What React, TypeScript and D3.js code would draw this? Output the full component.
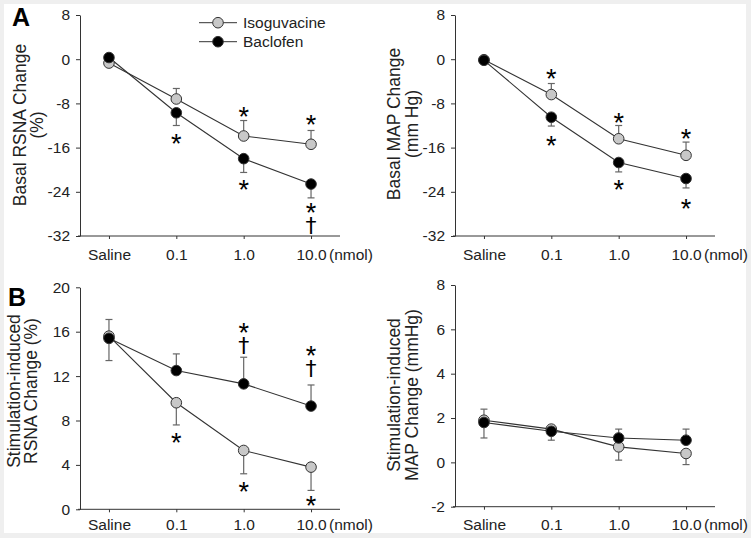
import { useEffect, useRef } from "react";
import * as d3 from "d3";

const doses = ["Saline", "0.1", "1.0", "10.0"];
const seriesNames = ["Isoguvacine", "Baclofen"];

// A, basal RSNA change (%)  -- error sign gives the whisker direction
const rsnaIso = [-0.7, -7.2, -13.9, -15.4];
const rsnaIsoErr = [0.4, 1.9, 2.8, 2.5];
const rsnaBac = [0.3, -9.7, -18.0, -22.6];
const rsnaBacErr = [-0.3, -2.3, -2.5, -2.5];

// A, basal MAP change (mm Hg)
const mapIso = [-0.1, -6.4, -14.4, -17.4];
const mapIsoErr = [0.3, 2.0, 2.4, 2.4];
const mapBac = [-0.2, -10.5, -18.7, -21.6];
const mapBacErr = [-0.3, -1.6, -1.7, -1.7];

// B, stimulation-induced RSNA change (%)
const stimRsnaIso = [15.6, 9.6, 5.3, 3.8];
const stimRsnaIsoErr = [1.5, -2.0, -2.1, -2.1];
const stimRsnaBac = [15.4, 12.5, 11.3, 9.3];
const stimRsnaBacErr = [-2.0, 1.5, 2.4, 1.9];

// B, stimulation-induced MAP change (mmHg)
const stimMapIso = [1.9, 1.5, 0.7, 0.4];
const stimMapIsoErr = [0.5, 0.1, -0.6, -0.5];
const stimMapBac = [1.8, 1.4, 1.1, 1.0];
const stimMapBacErr = [-0.7, -0.4, 0.4, 0.5];

const basalTicks = [-32, -24, -16, -8, 0, 8];
const stimRsnaTicks = [0, 4, 8, 12, 16, 20];
const stimMapTicks = [-2, 0, 2, 4, 6, 8];

// significance marks: dose, value at the star's centre, symbols (star, optional dagger below)
type Mark = [string, number, string];
const rsnaMarks: Mark[] = [
  ["0.1", -14.3, "*"],
  ["1.0", -9.4, "*"],
  ["1.0", -22.6, "*"],
  ["10.0", -10.7, "*"],
  ["10.0", -27.0, "*†"],
];
const mapMarks: Mark[] = [
  ["0.1", -2.4, "*"],
  ["0.1", -14.5, "*"],
  ["1.0", -10.4, "*"],
  ["1.0", -22.6, "*"],
  ["10.0", -13.4, "*"],
  ["10.0", -26.0, "*"],
];
const stimRsnaMarks: Mark[] = [
  ["0.1", 6.5, "*"],
  ["1.0", 16.3, "*†"],
  ["1.0", 2.1, "*"],
  ["10.0", 14.2, "*†"],
  ["10.0", 0.85, "*"],
];
const stimMapMarks: Mark[] = [];

const FONT = "'Liberation Sans', Arial, Helvetica, sans-serif";
const GRAY = "#c8c8c8";

interface PanelCfg {
  left: number;
  right: number;
  top: number;
  bottom: number;
  ticks: number[];
  iso: number[];
  isoErr: number[];
  bac: number[];
  bacErr: number[];
  marks: Mark[];
  title: string[];
  titleX: number;
  titleY: number;
  labelGap: number;
}

function drawPanel(root: d3.Selection<SVGGElement, unknown, null, undefined>, p: PanelCfg) {
  const g = root.append("g");
  const x = d3.scalePoint<string>().domain(doses).range([p.left, p.right]).padding(0.43);
  const y = d3
    .scaleLinear()
    .domain([p.ticks[0], p.ticks[p.ticks.length - 1]])
    .range([p.bottom, p.top]);

  // axes
  const ya = g
    .append("g")
    .attr("transform", `translate(${p.left},0)`)
    .call(d3.axisLeft(y).tickValues(p.ticks).tickSize(4).tickSizeOuter(0).tickPadding(6).tickFormat(d3.format("d")));
  const xa = g
    .append("g")
    .attr("transform", `translate(0,${p.bottom})`)
    .call(d3.axisBottom(x).tickSize(3).tickSizeOuter(0).tickPadding(p.labelGap));
  [ya, xa].forEach((a) => {
    a.selectAll("path,line").attr("stroke", "#333");
    a.selectAll("text").attr("fill", "#222").style("font-size", "15.5px").style("font-family", FONT);
  });
  ya.selectAll("text").text((d) => String(d));
  xa.select(".domain").attr("d", `M${p.left - 2},0H${p.right}`);

  // "(nmol)" unit after last dose label
  g.append("text")
    .attr("x", x("10.0")! + 18)
    .attr("y", p.bottom + 3 + p.labelGap + 15.5 * 0.71)
    .style("font-size", "15.5px")
    .style("font-family", FONT)
    .attr("fill", "#222")
    .text("(nmol)");

  // y title, rotated, two lines
  p.title.forEach((t, i) => {
    g.append("text")
      .attr("transform", `translate(${p.titleX + i * 17.5},${p.titleY}) rotate(-90)`)
      .attr("text-anchor", "middle")
      .style("font-size", "17.5px")
      .style("font-family", FONT)
      .attr("fill", "#222")
      .text(t);
  });

  const series = [
    { vals: p.iso, err: p.isoErr, fill: GRAY },
    { vals: p.bac, err: p.bacErr, fill: "#000" },
  ];

  // error bars
  series.forEach((s) => {
    s.vals.forEach((v, i) => {
      const cx = x(doses[i])!;
      const end = y(v + s.err[i]);
      g.append("line")
        .attr("x1", cx)
        .attr("x2", cx)
        .attr("y1", y(v))
        .attr("y2", end)
        .attr("stroke", "#666")
        .attr("stroke-width", 1.2);
      g.append("line")
        .attr("x1", cx - 3.5)
        .attr("x2", cx + 3.5)
        .attr("y1", end)
        .attr("y2", end)
        .attr("stroke", "#666")
        .attr("stroke-width", 1.2);
    });
  });

  // lines
  const line = d3
    .line<number>()
    .x((_, i) => x(doses[i])!)
    .y((d) => y(d));
  series.forEach((s) => {
    g.append("path").attr("d", line(s.vals)).attr("fill", "none").attr("stroke", "#333").attr("stroke-width", 1.1);
  });

  // markers
  series.forEach((s) => {
    g.selectAll(null)
      .data(s.vals)
      .join("circle")
      .attr("cx", (_, i) => x(doses[i])!)
      .attr("cy", (d) => y(d))
      .attr("r", 5.3)
      .attr("fill", s.fill)
      .attr("stroke", "#333")
      .attr("stroke-width", 1);
  });

  // significance marks: star, and a dagger stacked under it in the same text
  const marks = g
    .selectAll(null)
    .data(p.marks)
    .join("text")
    .attr("text-anchor", "middle")
    .attr("fill", "#000");
  marks.each(function (d) {
    const t = d3.select(this);
    const cx = x(d[0])!;
    const cy = y(d[1]);
    const withDagger = d[2].includes("†");
    t.append("tspan")
      .attr("x", cx)
      .attr("y", cy + 15.2 - (withDagger ? 1.5 : 0))
      .style("font-size", "27px")
      .style("font-family", FONT)
      .text("*");
    if (withDagger) {
      t.append("tspan")
        .attr("x", cx)
        .attr("y", cy + 24.5)
        .style("font-size", "22px")
        .style("font-family", "'DejaVu Sans', sans-serif")
        .text("†");
    }
  });

  return { x, y, g };
}

export default function App() {
  const svgRef = useRef<SVGSVGElement | null>(null);

  useEffect(() => {
    if (!svgRef.current) return;
    const svg = d3.select(svgRef.current);
    svg.selectAll("*").remove();

    svg.append("rect").attr("width", 751).attr("height", 538).attr("fill", "#efefef");
    svg.append("rect").attr("x", 4).attr("y", 4).attr("width", 742).attr("height", 529).attr("fill", "#fff");

    const root = svg.append("g");

    const a1 = drawPanel(root, {
      left: 80, right: 340, top: 15, bottom: 236,
      ticks: basalTicks,
      iso: rsnaIso, isoErr: rsnaIsoErr, bac: rsnaBac, bacErr: rsnaBacErr,
      marks: rsnaMarks,
      title: ["Basal RSNA Change", "(%)"],
      titleX: 25.5, titleY: 125, labelGap: 10,
    });
    drawPanel(root, {
      left: 455, right: 715, top: 15, bottom: 236,
      ticks: basalTicks,
      iso: mapIso, isoErr: mapIsoErr, bac: mapBac, bacErr: mapBacErr,
      marks: mapMarks,
      title: ["Basal MAP Change", "(mm Hg)"],
      titleX: 400, titleY: 124, labelGap: 10,
    });
    drawPanel(root, {
      left: 80, right: 340, top: 287.3, bottom: 509.3,
      ticks: stimRsnaTicks,
      iso: stimRsnaIso, isoErr: stimRsnaIsoErr, bac: stimRsnaBac, bacErr: stimRsnaBacErr,
      marks: stimRsnaMarks,
      title: ["Stimulation-induced", "RSNA Change (%)"],
      titleX: 19.5, titleY: 391, labelGap: 6.5,
    });
    drawPanel(root, {
      left: 455, right: 715, top: 285, bottom: 506.7,
      ticks: stimMapTicks,
      iso: stimMapIso, isoErr: stimMapIsoErr, bac: stimMapBac, bacErr: stimMapBacErr,
      marks: stimMapMarks,
      title: ["Stimulation-induced", "MAP Change (mmHg)"],
      titleX: 400, titleY: 395, labelGap: 9,
    });

    // legend in panel A
    const legend = a1.g.append("g");
    [GRAY, "#000"].forEach((fill, i) => {
      const ly = 22.7 + i * 19;
      legend.append("line").attr("x1", 199).attr("x2", 237).attr("y1", ly).attr("y2", ly).attr("stroke", "#333");
      legend.append("circle").attr("cx", 218).attr("cy", ly).attr("r", 5.3).attr("fill", fill).attr("stroke", "#333");
      legend
        .append("text")
        .attr("x", 243)
        .attr("y", ly + 5.5)
        .style("font-size", "15.5px")
        .style("font-family", FONT)
        .attr("fill", "#222")
        .text(seriesNames[i]);
    });

    // panel letters
    [["A", 12, 26], ["B", 8, 306]].forEach(([t, lx, ly]) => {
      svg
        .append("text")
        .attr("x", lx as number)
        .attr("y", ly as number)
        .style("font-size", "25px")
        .style("font-weight", "bold")
        .style("font-family", FONT)
        .attr("fill", "#000")
        .text(t as string);
    });
  }, []);

  return (
    <svg
      ref={svgRef}
      width={751}
      height={538}
      style={{ position: "absolute", left: 0, top: 0, display: "block" }}
    />
  );
}
